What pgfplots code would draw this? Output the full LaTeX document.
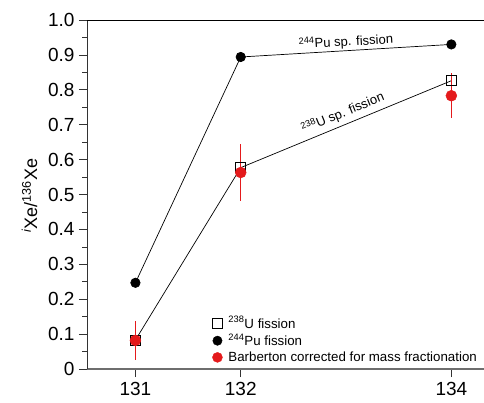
\documentclass[border=0pt]{standalone}
\usepackage{pgfplots}
\pgfplotsset{compat=1.18}
\usepackage{fontspec}
\setmainfont{Liberation Sans}
\definecolor{bred}{RGB}{228,26,28}
\definecolor{axgray}{RGB}{110,110,110}
\begin{document}
\begin{tikzpicture}
\begin{axis}[
  scale only axis,
  width=397pt, height=349pt,
  xmin=130.54, xmax=134.31,
  ymin=0, ymax=1.0,
  axis x line*=bottom,
  axis y line*=left,
  x axis line style={axgray, line width=1.6pt},
  y axis line style={black!80, line width=0.8pt},
  xtick={131,132,134},
  xticklabels={131,132,134},
  ytick={0,0.1,...,1.0},
  yticklabels={0,0.1,0.2,0.3,0.4,0.5,0.6,0.7,0.8,0.9,1.0},
  minor y tick num=1,
  tick align=outside,
  major tick length=8pt,
  minor tick length=4.5pt,
  tick style={black!80, line width=0.6pt},
  /pgf/number format/assume math mode=true,
  ticklabel style={font=\fontsize{19}{22}\selectfont},
  xticklabel style={yshift=-2pt},
  yticklabel style={xshift=-1pt},
  ylabel={\textsuperscript{\itshape i}Xe/\textsuperscript{136}Xe},
  ylabel style={font=\fontsize{18}{21}\selectfont, at={(rel axis cs:-0.145,0.496)}, anchor=center, rotate=0},
  clip=false,
  legend style={draw=none, fill=none, at={(rel axis cs:0.313,0.16)}, anchor=north west,
    font=\fontsize{13.3}{15}\selectfont, row sep=0.5pt, column sep=4pt, inner sep=1pt},
  legend cell align=left,
]
\draw[black, line width=0.8pt] (rel axis cs:0,1) -- (rel axis cs:1,1);
% U fission
\addplot[black, line width=0.7pt, mark=square, mark size=5pt, mark options={solid, fill=white, line width=0.7pt}, forget plot]
  coordinates {(131,0.083) (132,0.577) (134,0.826)};
% Pu fission
\addplot[black, line width=0.7pt, mark=*, mark size=4.7pt, forget plot]
  coordinates {(131,0.247) (132,0.894) (134,0.930)};
% Barberton
\addplot[bred, only marks, mark=*, mark size=5.5pt, forget plot,
  error bars/.cd, y dir=both, y explicit, error mark=none,
  error bar style={bred, line width=0.9pt}]
  coordinates {(131,0.082) +- (0,0.056) (132,0.563) +- (0,0.082) (134,0.783) +- (0,0.065)};
\addlegendimage{only marks, mark=square, mark size=5pt, black, mark options={line width=0.7pt}}
\addlegendentry{\textsuperscript{238}U fission}
\addlegendimage{only marks, mark=*, mark size=4.7pt, black}
\addlegendentry{\textsuperscript{244}Pu fission}
\addlegendimage{only marks, mark=*, mark size=5pt, bred}
\addlegendentry{Barberton corrected for mass fractionation}
\node[font=\fontsize{13}{15}\selectfont, rotate=3.2, anchor=center] at (axis cs:133.0,0.937) {\textsuperscript{244}Pu sp. fission};
\node[font=\fontsize{13}{15}\selectfont, rotate=22.3, anchor=center] at (axis cs:132.97,0.733) {\textsuperscript{238}U sp. fission};
\coordinate (bl) at (rel axis cs:-0.2191,-0.0946);
\coordinate (tr) at (rel axis cs:1,1.0573);
\end{axis}
\pgfresetboundingbox
\useasboundingbox (bl) rectangle (tr);
\end{tikzpicture}
\end{document}
